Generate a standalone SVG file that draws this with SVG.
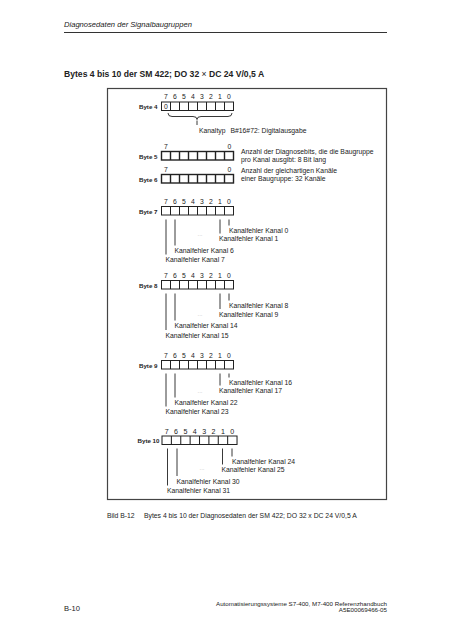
<svg xmlns="http://www.w3.org/2000/svg" xmlns:xlink="http://www.w3.org/1999/xlink" width="452" height="640" viewBox="0 0 452 640">
<style>
text{font-family:"Liberation Sans",Arial,sans-serif;fill:#222}
.t{font-size:6.8px}
.d{font-size:6.8px;text-anchor:middle}
.lbl{font-size:6.2px;font-weight:bold;text-anchor:end}
.dots{font-size:6px;fill:#bbb;text-anchor:middle}
.cell{fill:#fff;stroke:#222;stroke-width:1}
.cellb{fill:#fff;stroke:#222;stroke-width:1.4}
.ln{stroke:#222;stroke-width:0.9;fill:none}
</style>
<defs>
<g id="cells">
<rect x="0" y="0" width="72" height="8.5"/>
<path d="M9,0V8.5M18,0V8.5M27,0V8.5M36,0V8.5M45,0V8.5M54,0V8.5M63,0V8.5"/>
</g>
<g id="digits">
<text class="d" x="4.5">7</text><text class="d" x="13.5">6</text><text class="d" x="22.5">5</text><text class="d" x="31.5">4</text><text class="d" x="40.5">3</text><text class="d" x="49.5">2</text><text class="d" x="58.5">1</text><text class="d" x="67.5">0</text>
</g>
</defs>

<!-- page header -->
<text x="64" y="27" style="font-size:7.6px;font-style:italic">Diagnosedaten der Signalbaugruppen</text>
<line x1="64" y1="32.5" x2="387" y2="32.5" stroke="#333" stroke-width="1"/>
<text x="64" y="76.5" style="font-size:8.6px;font-weight:bold">Bytes 4 bis 10 der SM 422; DO 32 <tspan style="font-weight:normal">×</tspan> DC 24 V/0,5 A</text>

<!-- frame -->
<rect x="107.5" y="88.5" width="279" height="411" fill="none" stroke="#444" stroke-width="1.2"/>

<g id="byte4">
<use xlink:href="#digits" transform="translate(161.5,99)"/>
<text class="lbl" x="157.5" y="109">Byte 4</text>
<use xlink:href="#cells" class="cell" transform="translate(161.5,102)"/>
<text class="d" x="166" y="109">0</text>
<path class="ln" d="M168,113 Q168,116.5 172,116.5 L193,116.5 Q197,116.5 197,119.5 Q197,116.5 201,116.5 L228,116.5 Q232,116.5 232,113"/>
<line class="ln" x1="197" y1="120.5" x2="197" y2="125"/>
<text class="t" x="199" y="133">Kanaltyp</text>
<text class="t" x="230.5" y="133">B#16#72: Digitalausgabe</text>
</g>

<g id="byte5">
<text class="d" x="166" y="149">7</text><text class="d" x="229.5" y="149">0</text>
<text class="lbl" x="157.5" y="158.5">Byte 5</text>
<use xlink:href="#cells" class="cellb" transform="translate(161.5,151.5)"/>
<text class="t" x="241" y="153.5">Anzahl der Diagnosebits, die die Baugruppe</text>
<text class="t" x="241" y="161.5">pro Kanal ausgibt: 8 Bit lang</text>
</g>

<g id="byte6">
<text class="d" x="166" y="172">7</text><text class="d" x="229.5" y="172">0</text>
<text class="lbl" x="157.5" y="181.5">Byte 6</text>
<use xlink:href="#cells" class="cellb" transform="translate(161.5,174.5)"/>
<text class="t" x="241" y="172.5">Anzahl der gleichartigen Kanäle</text>
<text class="t" x="241" y="180.5">einer Baugruppe: 32 Kanäle</text>
</g>

<g id="byte7">
<use xlink:href="#digits" transform="translate(161.5,204)"/>
<text class="lbl" x="157.5" y="213.5">Byte 7</text>
<use xlink:href="#cells" class="cell" transform="translate(161.5,206.5)"/>
</g>
<g id="byte8">
<use xlink:href="#digits" transform="translate(161.5,278)"/>
<text class="lbl" x="157.5" y="287.5">Byte 8</text>
<use xlink:href="#cells" class="cell" transform="translate(161.5,280.5)"/>
</g>
<g id="byte9">
<use xlink:href="#digits" transform="translate(161.5,358)"/>
<text class="lbl" x="157.5" y="367.5">Byte 9</text>
<use xlink:href="#cells" class="cell" transform="translate(161.5,360.5)"/>
</g>
<g id="byte10">
<g transform="translate(162,433.5) scale(1.042,1)"><use xlink:href="#digits"/></g>
<text class="lbl" x="159.5" y="443">Byte 10</text>
<use xlink:href="#cells" class="cell" transform="translate(162,436) scale(1.042,1)" style="stroke-width:1"/>
</g>

<g id="connectors">
<!-- byte 7 -->
<path class="ln" d="M229,219.5V225.5M220,219.5V233.5M175,219.5V245.5M166,219.5V254.5"/>
<!-- byte 8 -->
<path class="ln" d="M229,293.5V300.5M220,293.5V309M175,293.5V320.5M166,293.5V330"/>
<!-- byte 9 -->
<path class="ln" d="M229,373.5V377.5M220,373.5V385.5M175,373.5V397.5M166,373.5V406.5"/>
<!-- byte 10 -->
<path class="ln" d="M232,448.5V456.5M222.5,448.5V464.5M177,448.5V476M167.5,448.5V485.5"/>
</g>

<g id="labels7">
<text class="t" x="229" y="233">Kanalfehler Kanal 0</text>
<text class="t" x="219" y="241">Kanalfehler Kanal 1</text>
<text class="dots" x="200" y="236">...</text>
<text class="t" x="174.5" y="252.5">Kanalfehler Kanal 6</text>
<text class="t" x="165.5" y="261.5">Kanalfehler Kanal 7</text>
</g>
<g id="labels8">
<text class="t" x="229" y="308">Kanalfehler Kanal 8</text>
<text class="t" x="219" y="316.5">Kanalfehler Kanal 9</text>
<text class="dots" x="200" y="316">...</text>
<text class="t" x="174.5" y="328">Kanalfehler Kanal 14</text>
<text class="t" x="165.5" y="337.5">Kanalfehler Kanal 15</text>
</g>
<g id="labels9">
<text class="t" x="229" y="385">Kanalfehler Kanal 16</text>
<text class="t" x="219" y="393">Kanalfehler Kanal 17</text>
<text class="dots" x="200" y="393">...</text>
<text class="t" x="174.5" y="405">Kanalfehler Kanal 22</text>
<text class="t" x="165.5" y="414">Kanalfehler Kanal 23</text>
</g>
<g id="labels10">
<text class="t" x="232" y="464">Kanalfehler Kanal 24</text>
<text class="t" x="221.5" y="472">Kanalfehler Kanal 25</text>
<text class="dots" x="202" y="470">...</text>
<text class="t" x="176.5" y="483.5">Kanalfehler Kanal 30</text>
<text class="t" x="167" y="493">Kanalfehler Kanal 31</text>
</g>

<!-- caption -->
<text class="t" x="107" y="517.5">Bild B-12</text>
<text class="t" x="144" y="517.5">Bytes 4 bis 10 der Diagnosedaten der SM 422; DO 32 x DC 24 V/0,5 A</text>

<!-- footer -->
<text x="64" y="611" style="font-size:7.6px">B-10</text>
<text x="387" y="606" style="font-size:6.2px;text-anchor:end">Automatisierungssysteme S7-400, M7-400 Referenzhandbuch</text>
<text x="387" y="611.5" style="font-size:6.2px;text-anchor:end">A5E00069466-05</text>
</svg>
